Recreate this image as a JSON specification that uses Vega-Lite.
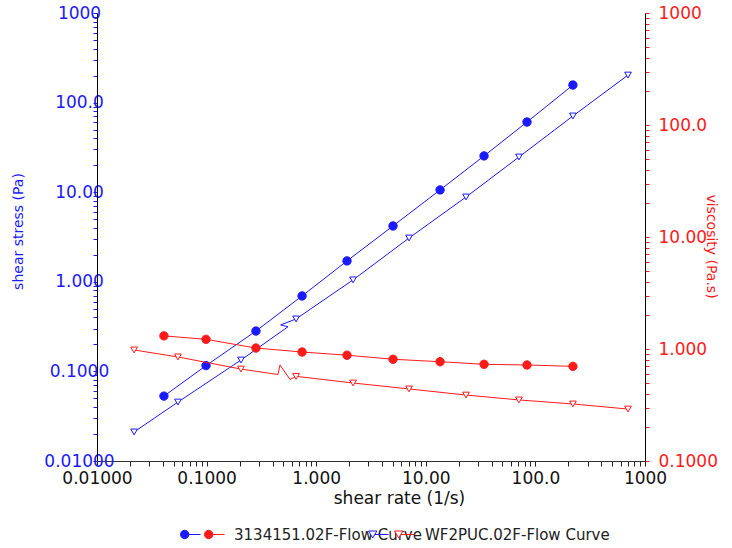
{
  "$schema": "https://vega.github.io/schema/vega-lite/v6.json",
  "width": 548,
  "height": 448,
  "autosize": {"type": "none"},
  "padding": {"left": 97, "top": 13, "right": 87, "bottom": 87},
  "config": {
    "view": {"stroke": null},
    "font": "DejaVu Sans",
    "axis": {"grid": false, "labelFont": "DejaVu Sans", "titleFont": "DejaVu Sans", "titleFontWeight": "normal", "labelFlush": false, "labelOverlap": false, "labelBound": false, "domainWidth": 1, "tickWidth": 1},
    "legend": {"labelFont": "DejaVu Sans", "orient": "none", "title": null, "symbolSize": 400, "labelFontSize": 15, "labelLimit": 400, "labelOffset": 9, "padding": 0, "labelColor": "#222222", "symbolStrokeWidth": 1}
  },
  "data": {
    "values": [
      {"s": "3134151.02F-Flow Curve", "q": "stress", "x": 0.0408, "v": 0.053, "m": 1, "i": 1},
      {"s": "3134151.02F-Flow Curve", "q": "stress", "x": 0.0988, "v": 0.116, "m": 1, "i": 2},
      {"s": "3134151.02F-Flow Curve", "q": "stress", "x": 0.282, "v": 0.282, "m": 1, "i": 3},
      {"s": "3134151.02F-Flow Curve", "q": "stress", "x": 0.743, "v": 0.695, "m": 1, "i": 4},
      {"s": "3134151.02F-Flow Curve", "q": "stress", "x": 1.91, "v": 1.71, "m": 1, "i": 5},
      {"s": "3134151.02F-Flow Curve", "q": "stress", "x": 5.02, "v": 4.2, "m": 1, "i": 6},
      {"s": "3134151.02F-Flow Curve", "q": "stress", "x": 13.5, "v": 10.6, "m": 1, "i": 7},
      {"s": "3134151.02F-Flow Curve", "q": "stress", "x": 34.0, "v": 25.4, "m": 1, "i": 8},
      {"s": "3134151.02F-Flow Curve", "q": "stress", "x": 83.8, "v": 60.7, "m": 1, "i": 9},
      {"s": "3134151.02F-Flow Curve", "q": "stress", "x": 220, "v": 157, "m": 1, "i": 10},
      {"s": "3134151.02F-Flow Curve", "q": "viscosity", "x": 0.0408, "v": 1.31, "m": 1, "i": 1},
      {"s": "3134151.02F-Flow Curve", "q": "viscosity", "x": 0.0988, "v": 1.22, "m": 1, "i": 2},
      {"s": "3134151.02F-Flow Curve", "q": "viscosity", "x": 0.282, "v": 1.02, "m": 1, "i": 3},
      {"s": "3134151.02F-Flow Curve", "q": "viscosity", "x": 0.743, "v": 0.94, "m": 1, "i": 4},
      {"s": "3134151.02F-Flow Curve", "q": "viscosity", "x": 1.91, "v": 0.88, "m": 1, "i": 5},
      {"s": "3134151.02F-Flow Curve", "q": "viscosity", "x": 5.02, "v": 0.81, "m": 1, "i": 6},
      {"s": "3134151.02F-Flow Curve", "q": "viscosity", "x": 13.5, "v": 0.77, "m": 1, "i": 7},
      {"s": "3134151.02F-Flow Curve", "q": "viscosity", "x": 34.0, "v": 0.73, "m": 1, "i": 8},
      {"s": "3134151.02F-Flow Curve", "q": "viscosity", "x": 83.8, "v": 0.72, "m": 1, "i": 9},
      {"s": "3134151.02F-Flow Curve", "q": "viscosity", "x": 220, "v": 0.70, "m": 1, "i": 10},
      {"s": "WF2PUC.02F-Flow Curve", "q": "stress", "x": 0.0218, "v": 0.0211, "m": 1, "i": 1},
      {"s": "WF2PUC.02F-Flow Curve", "q": "stress", "x": 0.0548, "v": 0.0455, "m": 1, "i": 2},
      {"s": "WF2PUC.02F-Flow Curve", "q": "stress", "x": 0.206, "v": 0.134, "m": 1, "i": 3},
      {"s": "WF2PUC.02F-Flow Curve", "q": "stress", "x": 0.553, "v": 0.315, "m": 0, "i": 4},
      {"s": "WF2PUC.02F-Flow Curve", "q": "stress", "x": 0.474, "v": 0.330, "m": 0, "i": 5},
      {"s": "WF2PUC.02F-Flow Curve", "q": "stress", "x": 0.655, "v": 0.385, "m": 1, "i": 6},
      {"s": "WF2PUC.02F-Flow Curve", "q": "stress", "x": 2.17, "v": 1.05, "m": 1, "i": 7},
      {"s": "WF2PUC.02F-Flow Curve", "q": "stress", "x": 7.03, "v": 3.08, "m": 1, "i": 8},
      {"s": "WF2PUC.02F-Flow Curve", "q": "stress", "x": 23.3, "v": 8.84, "m": 1, "i": 9},
      {"s": "WF2PUC.02F-Flow Curve", "q": "stress", "x": 70.8, "v": 24.7, "m": 1, "i": 10},
      {"s": "WF2PUC.02F-Flow Curve", "q": "stress", "x": 220, "v": 70.9, "m": 1, "i": 11},
      {"s": "WF2PUC.02F-Flow Curve", "q": "stress", "x": 700, "v": 203, "m": 1, "i": 12},
      {"s": "WF2PUC.02F-Flow Curve", "q": "viscosity", "x": 0.0218, "v": 0.98, "m": 1, "i": 1},
      {"s": "WF2PUC.02F-Flow Curve", "q": "viscosity", "x": 0.0548, "v": 0.849, "m": 1, "i": 2},
      {"s": "WF2PUC.02F-Flow Curve", "q": "viscosity", "x": 0.206, "v": 0.662, "m": 1, "i": 3},
      {"s": "WF2PUC.02F-Flow Curve", "q": "viscosity", "x": 0.448, "v": 0.592, "m": 0, "i": 4},
      {"s": "WF2PUC.02F-Flow Curve", "q": "viscosity", "x": 0.467, "v": 0.72, "m": 0, "i": 5},
      {"s": "WF2PUC.02F-Flow Curve", "q": "viscosity", "x": 0.577, "v": 0.535, "m": 0, "i": 6},
      {"s": "WF2PUC.02F-Flow Curve", "q": "viscosity", "x": 0.655, "v": 0.57, "m": 1, "i": 7},
      {"s": "WF2PUC.02F-Flow Curve", "q": "viscosity", "x": 2.17, "v": 0.497, "m": 1, "i": 8},
      {"s": "WF2PUC.02F-Flow Curve", "q": "viscosity", "x": 7.03, "v": 0.44, "m": 1, "i": 9},
      {"s": "WF2PUC.02F-Flow Curve", "q": "viscosity", "x": 23.3, "v": 0.388, "m": 1, "i": 10},
      {"s": "WF2PUC.02F-Flow Curve", "q": "viscosity", "x": 70.8, "v": 0.351, "m": 1, "i": 11},
      {"s": "WF2PUC.02F-Flow Curve", "q": "viscosity", "x": 220, "v": 0.323, "m": 1, "i": 12},
      {"s": "WF2PUC.02F-Flow Curve", "q": "viscosity", "x": 700, "v": 0.291, "m": 1, "i": 13}
    ]
  },
  "encoding": {
    "x": {
      "field": "x", "type": "quantitative",
      "scale": {"type": "log", "domain": [0.01, 1000], "nice": false},
      "axis": {
        "title": "shear rate (1/s)",
        "values": [0.01,0.02,0.03,0.04,0.05,0.06,0.07,0.08,0.09,0.1,0.2,0.3,0.4,0.5,0.6,0.7,0.8,0.9,1,2,3,4,5,6,7,8,9,10,20,30,40,50,60,70,80,90,100,200,300,400,500,600,700,800,900,1000],
        "labelExpr": "abs(log(datum.value)/LN10 - round(log(datum.value)/LN10)) < 0.001 ? format(datum.value, '.4r') : ''",
        "labelColor": "#111111", "labelFontSize": 17, "labelBaseline": "middle", "labelPadding": 12,
        "tickSize": 5, "tickColor": "#222222", "domainColor": "#333333",
        "titleColor": "#111111", "titleFontSize": 17, "titleX": 302, "titleY": 37, "titleBaseline": "middle", "titleAlign": "center"
      }
    }
  },
  "layer": [
    {
      "transform": [{"filter": "datum.q === 'stress'"}],
      "mark": {"type": "line", "color": "#1a1aff", "strokeWidth": 1},
      "encoding": {
        "y": {
          "field": "v", "type": "quantitative",
          "scale": {"type": "log", "domain": [0.01, 1000], "nice": false},
          "axis": {
            "orient": "left",
            "title": "shear stress (Pa)",
            "values": [0.01,0.02,0.03,0.04,0.05,0.06,0.07,0.08,0.09,0.1,0.2,0.3,0.4,0.5,0.6,0.7,0.8,0.9,1,2,3,4,5,6,7,8,9,10,20,30,40,50,60,70,80,90,100,200,300,400,500,600,700,800,900,1000],
            "labelExpr": "abs(log(datum.value)/LN10 - round(log(datum.value)/LN10)) < 0.001 ? format(datum.value, '.4r') : ''",
            "labelColor": "#1a1aff", "labelFontSize": 17, "labelAlign": "center", "labelBaseline": "middle", "labelPadding": 14,
            "tickSize": 4, "tickColor": "#1a1aff", "domainColor": "#000000",
            "titleColor": "#1a1aff", "titleFontSize": 14, "titleX": -79, "titleY": 218, "titleAngle": -90, "titleBaseline": "middle", "titleAlign": "center"
          }
        },
        "detail": {"field": "s"},
        "order": {"field": "i", "type": "quantitative"}
      }
    },
    {
      "transform": [{"filter": "datum.q === 'stress' && datum.m === 1"}],
      "mark": {"type": "point", "filled": true, "stroke": "#1a1aff", "strokeWidth": 1, "opacity": 1},
      "encoding": {
        "y": {"field": "v", "type": "quantitative", "scale": {"type": "log", "domain": [0.01, 1000], "nice": false}, "axis": null},
        "shape": {
          "field": "s", "type": "nominal",
          "scale": {"domain": ["3134151.02F-Flow Curve", "WF2PUC.02F-Flow Curve"], "range": ["circle", "triangle-down"]},
          "legend": null
        },
        "fill": {"condition": {"test": "datum.s === '3134151.02F-Flow Curve'", "value": "#1a1aff"}, "value": "#ffffff"},
        "size": {"condition": {"test": "datum.s === '3134151.02F-Flow Curve'", "value": 70}, "value": 45}
      }
    },
    {
      "transform": [{"filter": "datum.q === 'viscosity'"}],
      "mark": {"type": "line", "color": "#ff1a1a", "strokeWidth": 1},
      "encoding": {
        "y": {
          "field": "v", "type": "quantitative",
          "scale": {"type": "log", "domain": [0.1, 1000], "nice": false},
          "axis": {
            "orient": "right",
            "title": "viscosity (Pa.s)",
            "values": [0.1,0.2,0.3,0.4,0.5,0.6,0.7,0.8,0.9,1,2,3,4,5,6,7,8,9,10,20,30,40,50,60,70,80,90,100,200,300,400,500,600,700,800,900,1000],
            "labelExpr": "abs(log(datum.value)/LN10 - round(log(datum.value)/LN10)) < 0.001 ? format(datum.value, '.4r') : ''",
            "labelColor": "#ff1a1a", "labelFontSize": 17, "labelAlign": "left", "labelBaseline": "middle", "labelPadding": 9,
            "tickSize": 4, "tickColor": "#ff1a1a", "domainColor": "#000000",
            "titleColor": "#ff1a1a", "titleFontSize": 14, "titleX": 65, "titleY": 233, "titleAngle": 90, "titleBaseline": "middle", "titleAlign": "center"
          }
        },
        "detail": {"field": "s"},
        "order": {"field": "i", "type": "quantitative"}
      }
    },
    {
      "transform": [{"filter": "datum.q === 'viscosity' && datum.m === 1"}],
      "mark": {"type": "point", "filled": true, "stroke": "#ff1a1a", "strokeWidth": 1, "opacity": 1},
      "encoding": {
        "y": {"field": "v", "type": "quantitative", "scale": {"type": "log", "domain": [0.1, 1000], "nice": false}, "axis": null},
        "shape": {
          "field": "s", "type": "nominal",
          "scale": {"domain": ["3134151.02F-Flow Curve", "WF2PUC.02F-Flow Curve"], "range": ["circle", "triangle-down"]},
          "legend": null
        },
        "fill": {"condition": {"test": "datum.s === '3134151.02F-Flow Curve'", "value": "#ff1a1a"}, "value": "#ffffff"},
        "size": {"condition": {"test": "datum.s === '3134151.02F-Flow Curve'", "value": 70}, "value": 45}
      }
    },
    {
      "transform": [{"filter": "false"}],
      "mark": {"type": "point", "filled": true, "fill": "#1a1aff", "stroke": "#1a1aff", "strokeWidth": 1, "opacity": 1},
      "encoding": {
        "shape": {
          "field": "s", "type": "nominal",
          "scale": {"domain": ["3134151.02F-Flow Curve"], "range": ["M-1,0A0.42,0.42,0,1,1,-0.16,0A0.42,0.42,0,1,1,-1,0Z M-0.16,0L1,0"]},
          "legend": {"legendX": 83, "legendY": 511, "labelExpr": "''"}
        }
      }
    },
    {
      "transform": [{"filter": "false"}],
      "mark": {"type": "point", "filled": true, "fill": "#ff1a1a", "stroke": "#ff1a1a", "strokeWidth": 1, "opacity": 1},
      "encoding": {
        "shape": {
          "field": "s", "type": "nominal",
          "scale": {"domain": ["3134151.02F-Flow Curve"], "range": ["M-1,0A0.42,0.42,0,1,1,-0.16,0A0.42,0.42,0,1,1,-1,0Z M-0.16,0L1,0"]},
          "legend": {"legendX": 107, "legendY": 511}
        }
      }
    },
    {
      "transform": [{"filter": "false"}],
      "mark": {"type": "point", "filled": true, "fill": "#ffffff", "stroke": "#1a1aff", "strokeWidth": 1, "opacity": 1},
      "encoding": {
        "shape": {
          "field": "s", "type": "nominal",
          "scale": {"domain": ["WF2PUC.02F-Flow Curve"], "range": ["M-1,-0.35L-0.16,-0.35L-0.58,0.35Z M-0.37,0L1,0"]},
          "legend": {"legendX": 271, "legendY": 511, "labelExpr": "''"}
        }
      }
    },
    {
      "transform": [{"filter": "false"}],
      "mark": {"type": "point", "filled": true, "fill": "#ffffff", "stroke": "#ff1a1a", "strokeWidth": 1, "opacity": 1},
      "encoding": {
        "shape": {
          "field": "s", "type": "nominal",
          "scale": {"domain": ["WF2PUC.02F-Flow Curve"], "range": ["M-1,-0.35L-0.16,-0.35L-0.58,0.35Z M-0.37,0L1,0"]},
          "legend": {"legendX": 297, "legendY": 511, "labelOffset": 10}
        }
      }
    }
  ],
  "resolve": {
    "scale": {"y": "independent", "shape": "independent"},
    "axis": {"y": "independent"},
    "legend": {"shape": "independent"}
  }
}
